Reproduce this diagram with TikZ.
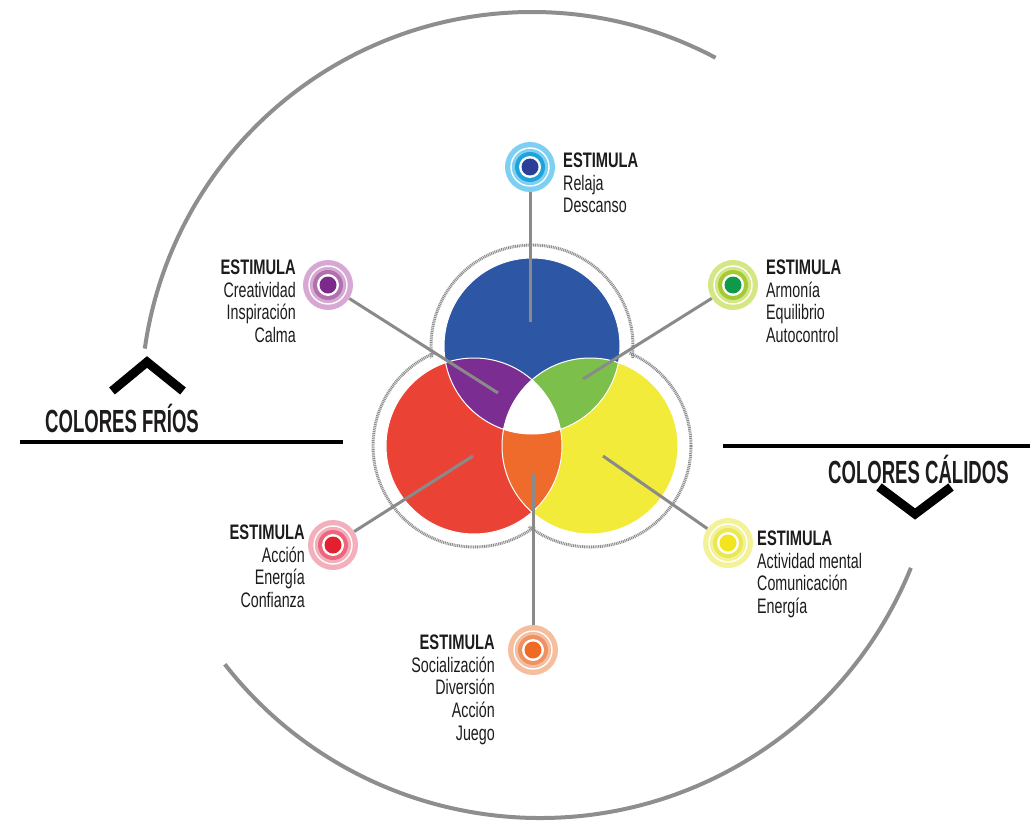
\documentclass[tikz,border=0pt]{standalone}
\usepackage{fontspec}
\newfontfamily\cfr[FakeStretch=0.68]{Liberation Sans}
\newfontfamily\cfb[FakeStretch=0.70]{Liberation Sans Bold}
\newfontfamily\cfh[FakeStretch=0.58]{Liberation Sans Bold}
\definecolor{arcgray}{HTML}{8E8E8E}
\definecolor{conngray}{HTML}{8A8A8A}
\definecolor{dotgray}{HTML}{8C8C8C}
\definecolor{txt}{HTML}{1E1B1C}
\definecolor{vblue}{HTML}{2D57A5}
\definecolor{vred}{HTML}{EA4335}
\definecolor{vyellow}{HTML}{F2EB3A}
\definecolor{vpurple}{HTML}{7C2D91}
\definecolor{vgreen}{HTML}{7CC04B}
\definecolor{vorange}{HTML}{EF6B2C}
% target colours: halo, ring, core
\definecolor{bhalo}{HTML}{7DD0F2}\definecolor{bring}{HTML}{1FA3DD}\definecolor{bcore}{HTML}{2B3F98}
\definecolor{phalo}{HTML}{D8A8D5}\definecolor{pring}{HTML}{B170AE}\definecolor{pcore}{HTML}{7B2A8A}
\definecolor{ghalo}{HTML}{D5E784}\definecolor{gring}{HTML}{A3CB33}\definecolor{gcore}{HTML}{0E9A48}
\definecolor{rhalo}{HTML}{F4AFBC}\definecolor{rring}{HTML}{EC667E}\definecolor{rcore}{HTML}{E2202F}
\definecolor{yhalo}{HTML}{F3F298}\definecolor{yring}{HTML}{EBE852}\definecolor{ycore}{HTML}{F2E51E}
\definecolor{ohalo}{HTML}{F5BE9F}\definecolor{oring}{HTML}{EF9263}\definecolor{ocore}{HTML}{EF6A24}
\newcommand\tgt[6]{%
  \node[circle, inner sep=0pt, minimum size=50pt, fill=#4] (#1) at (#2,#3) {};
  \draw[white, line width=1.4pt] (#1.center) circle[radius=19pt];
  \fill[#5] (#1.center) circle[radius=15pt];
  \fill[white] (#1.center) circle[radius=11pt];
  \fill[#6] (#1.center) circle[radius=8.5pt];}
\begin{document}
\begin{tikzpicture}[x=1pt,y=1pt,
  arcline/.style={line width=4pt, color=arcgray},
  rule/.style={line width=4pt, color=black},
  chev/.style={line width=9pt, color=black, miter limit=10},
  conn/.style={line width=3pt, color=conngray},
  dotring/.style={line width=3pt, color=dotgray, dash pattern=on 1pt off 0.8pt},
  lbl/.style={inner sep=0pt, text=txt, font=\cfr\fontsize{21}{22.7}\selectfont},
  hdr/.style={inner sep=0pt, text=txt, font=\cfh\fontsize{32}{36}\selectfont}]
\useasboundingbox (0,0) rectangle (1030,-821);

% big arcs
\coordinate (topc) at (532,-403);
\coordinate (botc) at (540,-418);
\draw[arcline] ([shift={(62:391pt)}]topc) arc[start angle=62, end angle=172, radius=391pt];
\draw[arcline] ([shift={(218:400pt)}]botc) arc[start angle=218, end angle=338, radius=400pt];

% horizontal rules
\coordinate (la) at (20,-442); \coordinate (lb) at (343,-442);
\coordinate (ra) at (723,-446); \coordinate (rb) at (1030,-446);
\draw[rule] (la) -- (lb);
\draw[rule] (ra) -- (rb);

% chevrons
\coordinate (c1a) at (112,-391); \coordinate (c1b) at (147,-362); \coordinate (c1c) at (183,-391);
\draw[chev] (c1a) -- (c1b) -- (c1c);
\coordinate (c2a) at (879,-487); \coordinate (c2b) at (915,-514); \coordinate (c2c) at (951,-487);
\draw[chev] (c2a) -- (c2b) -- (c2c);

% headings
\node[hdr, anchor=west] (frios) at (45,-418) {COLORES FRÍOS};
\node[hdr, anchor=west] (calidos) at (828,-469) {COLORES CÁLIDOS};

% Venn
\coordinate (cb) at (532,-346);
\coordinate (cr) at (474,-446);
\coordinate (cy) at (590,-446);
\foreach \c in {cb,cr,cy} \draw[dotring] (\c) circle[radius=101pt];
\foreach \c in {cb,cr,cy} \fill[white] (\c) circle[radius=97.5pt];
\fill[vblue] (cb) circle[radius=88pt];
\fill[vred] (cr) circle[radius=88pt];
\fill[vyellow] (cy) circle[radius=88pt];
\begin{scope}
  \clip (cr) circle[radius=88pt];
  \fill[vpurple] (cb) circle[radius=88pt];
  \fill[vorange] (cy) circle[radius=88pt];
\end{scope}
\begin{scope}
  \clip (cb) circle[radius=88pt];
  \fill[vgreen] (cy) circle[radius=88pt];
\end{scope}
\begin{scope}
  \clip (cb) circle[radius=88pt];
  \clip (cr) circle[radius=88pt];
  \fill[white] (cy) circle[radius=88pt];
\end{scope}
\foreach \c in {cb,cr,cy} \draw[white, line width=1pt] (\c) circle[radius=88pt];

% end points of connectors
\coordinate (eb) at (530,-322);
\coordinate (ep) at (498,-393);
\coordinate (eg) at (583,-379);
\coordinate (er) at (473,-456);
\coordinate (ey) at (603,-456);
\coordinate (eo) at (533,-473);

% targets
\tgt{tb}{530}{-167}{bhalo}{bring}{bcore}
\tgt{tp}{328}{-285}{phalo}{pring}{pcore}
\tgt{tg}{733}{-285}{ghalo}{gring}{gcore}
\tgt{tr}{333}{-545}{rhalo}{rring}{rcore}
\tgt{ty}{728}{-543}{yhalo}{yring}{ycore}
\tgt{to}{533}{-650}{ohalo}{oring}{ocore}

% connectors
\draw[conn] (tb) -- (eb);
\draw[conn] (tp) -- (ep);
\draw[conn] (tg) -- (eg);
\draw[conn] (tr) -- (er);
\draw[conn] (ty) -- (ey);
\draw[conn] (to) -- (eo);

% labels
\node[lbl, anchor=north west, align=left] (lb1) at (563,-152.5)
  {{\cfb ESTIMULA}\\Relaja\\Descanso};
\node[lbl, anchor=north east, align=right] (lp1) at (296,-259.5)
  {{\cfb ESTIMULA}\\Creatividad\\Inspiración\\Calma};
\node[lbl, anchor=north west, align=left] (lg1) at (766,-259.5)
  {{\cfb ESTIMULA}\\Armonía\\Equilibrio\\Autocontrol};
\node[lbl, anchor=north east, align=right] (lr1) at (305,-524.5)
  {{\cfb ESTIMULA}\\Acción\\Energía\\Confianza};
\node[lbl, anchor=north west, align=left] (ly1) at (757,-530.5)
  {{\cfb ESTIMULA}\\Actividad mental\\Comunicación\\Energía};
\node[lbl, anchor=north east, align=right] (lo1) at (495,-634.5)
  {{\cfb ESTIMULA}\\Socialización\\Diversión\\Acción\\Juego};
\end{tikzpicture}
\end{document}
